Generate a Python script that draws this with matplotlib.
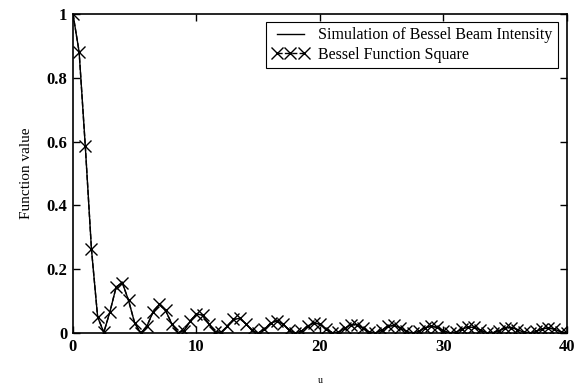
import matplotlib
matplotlib.use("Agg")
import matplotlib.pyplot as plt
import numpy as np

# sample positions u (step 0.5 from 0 to 40)
u = [i * 0.5 for i in range(81)]

bessel_sq = [1.0, 0.8807, 0.5855, 0.2620, 0.0501, 0.0023, 0.0676, 0.1445, 0.1577, 0.1027,
             0.0315, 0.0000, 0.0227, 0.0676, 0.0900, 0.0709, 0.0295, 0.0018, 0.0082, 0.0376,
             0.0605, 0.0560, 0.0293, 0.0046, 0.0023, 0.0214, 0.0428, 0.0462, 0.0293, 0.0086,
             0.0002, 0.0122, 0.0309, 0.0386, 0.0286, 0.0104, 0.0001, 0.0061, 0.0217, 0.0321,
             0.0278, 0.0131, 0.0013, 0.0025, 0.0147, 0.0262, 0.0263, 0.0152, 0.0031, 0.0006,
             0.0094, 0.0208, 0.0243, 0.0168, 0.0052, 0.0000, 0.0054, 0.0160, 0.0219, 0.0177,
             0.0074, 0.0004, 0.0027, 0.0118, 0.0191, 0.0179, 0.0094, 0.0014, 0.0010, 0.0082,
             0.0161, 0.0175, 0.0111, 0.0028, 0.0001, 0.0052, 0.0131, 0.0165, 0.0124, 0.0045,
             0.0000]
simulation = list(bessel_sq)

xticks = [0, 10, 20, 30, 40]
yticks = [0, 0.2, 0.4, 0.6, 0.8, 1]
yticklabels = ['0', '0.2', '0.4', '0.6', '0.8', '1']

plt.rcParams['font.family'] = ['Liberation Serif', 'DejaVu Serif']

fig = plt.figure(figsize=(5.79, 3.86), dpi=100)
ax = fig.add_axes([0.126, 0.137, 0.853, 0.827])

ax.plot(u, simulation, '-', color='black', lw=1.0,
        label='Simulation of Bessel Beam Intensity')
ax.plot(u, bessel_sq, '--', color='black', lw=1.0, marker='x', ms=8, mew=1.0,
        label='Bessel Function Square')

ax.set_xlim(0, 40)
ax.set_ylim(0, 1)
ax.set_xticks(xticks)
ax.set_yticks(yticks)
ax.set_yticklabels(yticklabels)
ax.tick_params(direction='in', top=True, right=True, length=5, width=1, pad=4)
for lab in ax.get_xticklabels() + ax.get_yticklabels():
    lab.set_fontweight('bold')
    lab.set_fontsize(12)
for s in ax.spines.values():
    s.set_linewidth(1.2)

ax.set_ylabel('Function value', fontsize=11, labelpad=10)
ax.set_xlabel('u', fontsize=7, labelpad=15)

leg = ax.legend(loc='upper right', bbox_to_anchor=(0.982, 0.975), fontsize=11.5,
                frameon=True, fancybox=False, edgecolor='black', framealpha=1,
                numpoints=3, handlelength=2.3, borderpad=0.35, labelspacing=0.2,
                handletextpad=0.6, borderaxespad=0)
leg.get_frame().set_linewidth(0.8)

fig.savefig('out.png', dpi=100)
